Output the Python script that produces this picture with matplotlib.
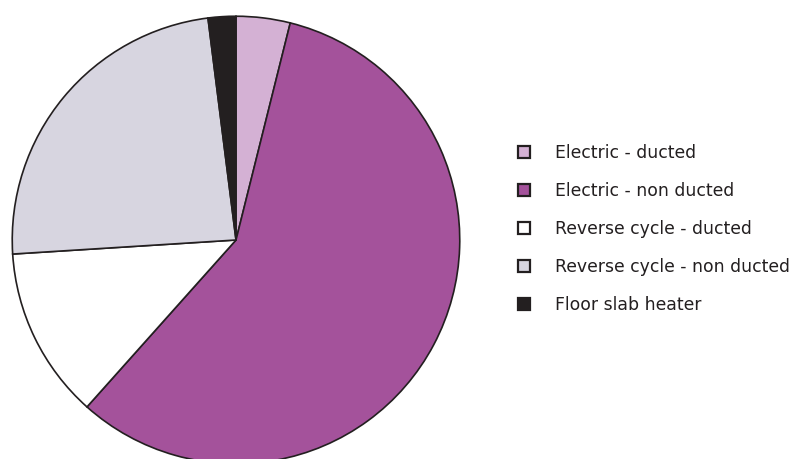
import matplotlib
matplotlib.use("Agg")
import matplotlib.pyplot as plt
from matplotlib.patches import Rectangle

categories = ["Electric - ducted", "Electric - non ducted", "Reverse cycle - ducted",
              "Reverse cycle - non ducted", "Floor slab heater"]
values = [3.9, 57.7, 12.4, 24.0, 2.0]
colors = ["#d4b1d4", "#a4529b", "#ffffff", "#d7d5e0", "#231f20"]

plt.rcParams['font.family'] = ['DejaVu Sans']

W, H = 799, 459
fig = plt.figure(figsize=(W / 100, H / 100), dpi=100)

cx, cy, r = 236, 240, 226
ax = fig.add_axes([(cx - r) / W, (H - cy - r) / H, 2 * r / W, 2 * r / H])
wedges, _ = ax.pie(values, colors=colors, startangle=90, counterclock=False,
                   radius=1.0, wedgeprops=dict(edgecolor="#231f20", linewidth=1.2))
ax.set_xlim(-1.01, 1.01)
ax.set_ylim(-1.01, 1.01)
ax.set_aspect('equal')
ax.axis('off')

# legend drawn in figure pixel coordinates
row0, step = 152, 38
for i, (lab, col) in enumerate(zip(categories, colors)):
    yc = row0 + i * step
    fig.patches.append(Rectangle((518 / W, (H - yc - 6) / H), 12 / W, 12 / H,
                                 transform=fig.transFigure, facecolor=col,
                                 edgecolor="#231f20", linewidth=1.6))
    fig.text(555 / W, (H - yc - 6) / H, lab, fontsize=12.4, color="#231f20",
             ha='left', va='baseline')

fig.savefig("out.png", dpi=100)
